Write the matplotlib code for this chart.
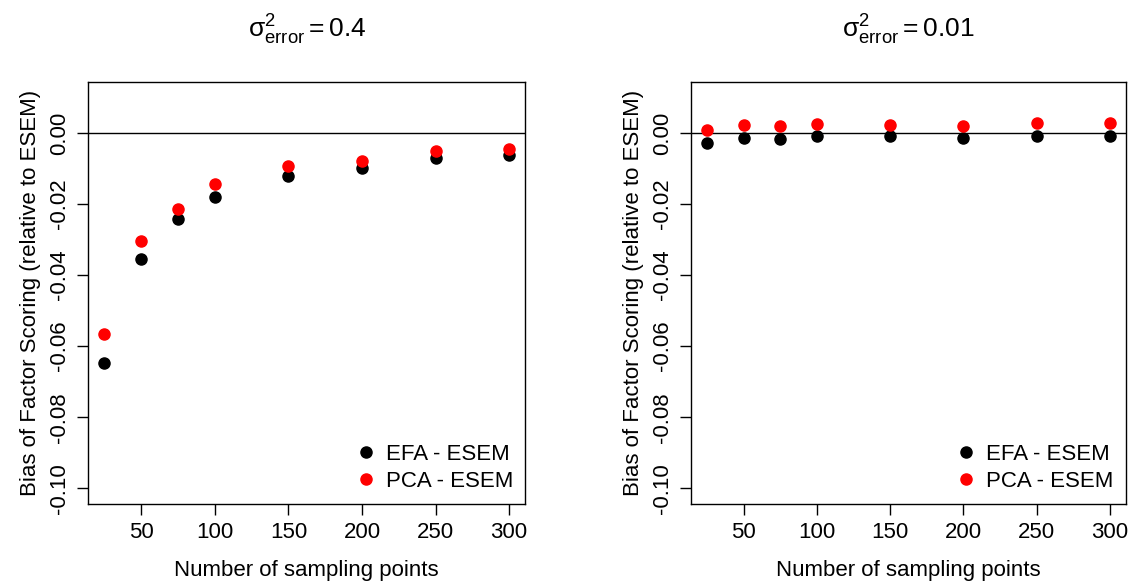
import matplotlib
matplotlib.use("Agg")
from matplotlib import pyplot as plt

plt.rcParams['font.family'] = ['Liberation Sans', 'DejaVu Sans']
plt.rcParams['mathtext.fontset'] = 'custom'
plt.rcParams['mathtext.rm'] = 'Liberation Sans'
plt.rcParams['mathtext.it'] = 'Liberation Sans:italic'
plt.rcParams['axes.unicode_minus'] = False

# sample sizes and bias values for each error variance
n_points = [25, 50, 75, 100, 150, 200, 250, 300]
efa_high = [-0.0648, -0.0354, -0.0243, -0.0180, -0.0121, -0.0100, -0.0072, -0.0063]
pca_high = [-0.0567, -0.0304, -0.0215, -0.0144, -0.0094, -0.0079, -0.0051, -0.0046]
efa_low = [-0.0028, -0.0014, -0.0016, -0.0008, -0.0009, -0.0015, -0.0009, -0.0008]
pca_low = [0.0008, 0.0022, 0.0020, 0.0025, 0.0022, 0.0020, 0.0027, 0.0027]

titles = [r'$\mathrm{σ}^2_{\mathrm{error}} = 0.4$', r'$\mathrm{σ}^2_{\mathrm{error}} = 0.01$']
xticks = [50, 100, 150, 200, 250, 300]
yticks = [0.0, -0.02, -0.04, -0.06, -0.08, -0.10]
ytick_labels = ['0.00', '-0.02', '-0.04', '-0.06', '-0.08', '-0.10']

fig = plt.figure(figsize=(11.32, 5.88), dpi=100)
ax1 = fig.add_axes([0.078, 0.143, 0.386, 0.718])
ax2 = fig.add_axes([0.6104, 0.143, 0.3843, 0.718])

for ax, efa, pca, title in [(ax1, efa_high, pca_high, titles[0]),
                            (ax2, efa_low, pca_low, titles[1])]:
    ax.axhline(0, color='black', lw=1)
    ax.plot(n_points, efa, 'o', color='black', ms=8, label='EFA - ESEM')
    ax.plot(n_points, pca, 'o', color='red', ms=8, label='PCA - ESEM')
    ax.set_xlim(14, 311)
    ax.set_ylim(-0.1044, 0.0144)
    ax.set_xticks(xticks)
    ax.set_yticks(yticks)
    ax.set_yticklabels(ytick_labels, rotation=90, va='center')
    ax.tick_params(direction='out', length=8, width=1, labelsize=16, pad=5)
    for s in ax.spines.values():
        s.set_linewidth(1)
    ax.set_title(title, fontsize=19, pad=32)
    ax.set_xlabel('Number of sampling points', fontsize=16, labelpad=12)
    ax.set_ylabel('Bias of Factor Scoring (relative to ESEM)', fontsize=16, labelpad=6)
    ax.legend(loc='lower right', frameon=False, fontsize=16, handletextpad=0.3,
              borderaxespad=0.15, labelspacing=0.25, handlelength=1.2)

fig.savefig('out.png', dpi=100)
